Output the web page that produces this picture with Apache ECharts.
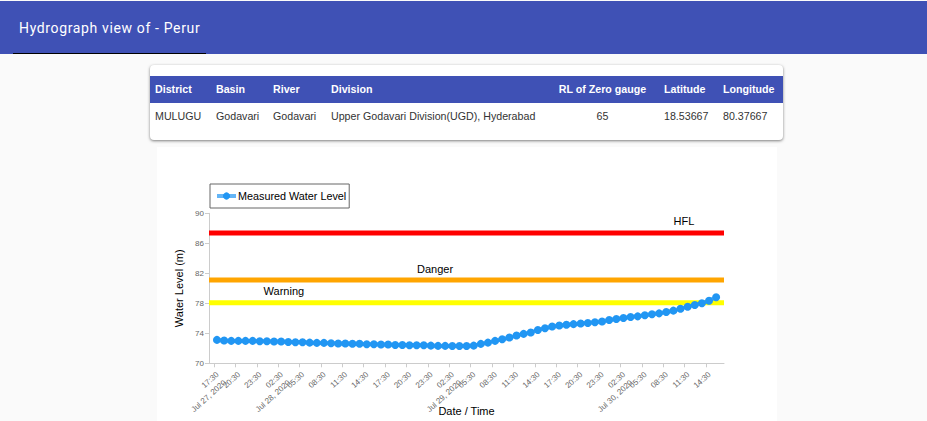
<!DOCTYPE html>
<html>
<head>
<meta charset="utf-8">
<title>Hydrograph view of - Perur</title>
<script src="https://cdn.jsdelivr.net/npm/echarts@6/dist/echarts.min.js"></script>
<style>
html,body{margin:0;padding:0;width:927px;height:421px;overflow:hidden;background:#fafafa;font-family:"Liberation Sans",Arial,sans-serif}
#bar{position:absolute;left:0;top:1px;width:927px;height:53px;background:#3f51b5}
#bar span{position:absolute;left:19px;top:19px;color:#fff;font:14px Roboto,sans-serif;letter-spacing:.64px;white-space:nowrap}
#bar i{position:absolute;left:13px;top:52px;width:193px;height:1px;background:#000}
#card{position:absolute;left:150px;top:65px;width:633px;height:75px;background:#fff;border-radius:4px;box-shadow:0 1px 3px rgba(0,0,0,.5)}
#card table{position:absolute;left:0;top:11px;width:633px;border-collapse:collapse;table-layout:fixed;font-size:10.67px}
#card th{height:27px;padding:0 0 2px;box-sizing:border-box;background:#3f51b5;color:#fff;font-weight:bold;text-align:left}
#card td{height:27px;padding:0 0 2px;box-sizing:border-box;color:#333;text-align:left}
#card th:first-child,#card td:first-child{padding-left:5px}
#card .rl{text-align:center;padding-right:9px}
#e{position:absolute;left:157px;top:147px;width:620px;height:274px;background:#fff}
</style>
</head>
<body>
<div id="bar"><span>Hydrograph view of - Perur</span><i></i></div>
<div id="card">
<table>
<colgroup><col style="width:66px"><col style="width:57px"><col style="width:58px"><col style="width:219px"><col style="width:114px"><col style="width:59px"><col style="width:60px"></colgroup>
<tr><th>District</th><th>Basin</th><th>River</th><th>Division</th><th class="rl">RL of Zero gauge</th><th>Latitude</th><th>Longitude</th></tr>
<tr><td>MULUGU</td><td>Godavari</td><td>Godavari</td><td>Upper Godavari Division(UGD), Hyderabad</td><td class="rl">65</td><td>18.53667</td><td>80.37667</td></tr>
</table>
</div>
<div id="e"></div>
<script>
// 水位 (hourly, first reading Jul 27 17:55)
var levels = [
    73.12,73.03,72.99,72.99,72.99,72.99,72.94,72.94,72.90,72.90,72.85,72.81,
    72.81,72.76,72.72,72.72,72.68,72.63,72.63,72.60,72.60,72.54,72.54,72.50,
    72.50,72.45,72.45,72.40,72.40,72.40,72.36,72.32,72.32,72.30,72.30,72.30,
    72.36,72.59,72.76,72.99,73.20,73.43,73.70,73.92,74.10,74.45,74.68,74.90,
    75.03,75.15,75.22,75.30,75.38,75.47,75.58,75.77,75.91,76.04,76.17,76.26,
    76.40,76.53,76.66,76.84,77.02,77.28,77.55,77.77,78.00,78.35,78.80
];
var firstReading = new Date('2020-07-27T17:55:00').getTime();
var times = levels.map(function (v, i) { return firstReading + i * 3600000; });

var tickTimes = [
    '2020-07-27T17:30:00','2020-07-27T20:30:00','2020-07-27T23:30:00','2020-07-28T02:30:00',
    '2020-07-28T05:30:00','2020-07-28T08:30:00','2020-07-28T11:30:00','2020-07-28T14:30:00',
    '2020-07-28T17:30:00','2020-07-28T20:30:00','2020-07-28T23:30:00','2020-07-29T02:30:00',
    '2020-07-29T05:30:00','2020-07-29T08:30:00','2020-07-29T11:30:00','2020-07-29T14:30:00',
    '2020-07-29T17:30:00','2020-07-29T20:30:00','2020-07-29T23:30:00','2020-07-30T02:30:00',
    '2020-07-30T05:30:00','2020-07-30T08:30:00','2020-07-30T11:30:00','2020-07-30T14:30:00'
].map(function (s) { return new Date(s).getTime(); });
var tickLabels = [
    '17:30\nJul 27, 2020','20:30','23:30','02:30\nJul 28, 2020','05:30','08:30','11:30','14:30',
    '17:30','20:30','23:30','02:30\nJul 29, 2020','05:30','08:30','11:30','14:30',
    '17:30','20:30','23:30','02:30\nJul 30, 2020','05:30','08:30','11:30','14:30'
];
var axisMin = new Date('2020-07-27T16:48:00').getTime();
var axisMax = new Date('2020-07-30T17:01:00').getTime();

var hfl = 87.37, danger = 81.1, warning = 78.08;
var hflAt = new Date('2020-07-30T11:24:00').getTime();
var dangerAt = new Date('2020-07-29T00:30:00').getTime();
var warningAt = new Date('2020-07-28T03:18:00').getTime();

function refLine(name, value, color, labelAt) {
    return {
        name: name,
        type: 'line',
        symbol: 'none',
        silent: true,
        z: 1,
        lineStyle: { color: color, width: 5, cap: 'butt' },
        data: [
            [axisMin, value],
            {
                value: [labelAt, value],
                symbol: 'circle',
                symbolSize: 0.1,
                label: { show: true, formatter: name, position: 'top', distance: 6, color: '#000', fontSize: 11 }
            },
            [axisMax, value]
        ]
    };
}

// 首尾 label 会被隐藏, 前面垫一个空的 axisMin
var labelValues = [axisMin].concat(tickTimes);

var myChart = echarts.init(document.getElementById('e'), null, { renderer: 'svg' });
var option = {
    animation: false,
    textStyle: { fontFamily: '"Liberation Sans", Arial, sans-serif' },
    grid: { left: 52, right: 53, top: 66.3, height: 150, containLabel: false, outerBoundsMode: 'none' },
    legend: {
        data: ['Measured Water Level'],
        left: 53,
        top: 37,
        padding: [6.5, 3, 6.5, 5],
        borderColor: '#666',
        borderWidth: 1,
        itemWidth: 19,
        itemHeight: 9,
        itemGap: 0,
        lineStyle: { color: '#64b5f6', width: 4 },
        textStyle: { color: '#000', fontSize: 10.8, padding: [0, 0, 0, -3] }
    },
    xAxis: {
        type: 'value',
        min: axisMin,
        max: axisMax,
        name: 'Date / Time',
        nameLocation: 'middle',
        nameGap: 42,
        nameMoveOverlap: false,
        nameTextStyle: { color: '#000', fontSize: 11 },
        splitLine: { show: false },
        axisLine: { lineStyle: { color: '#ccc', width: 1 } },
        axisTick: { customValues: labelValues, length: 4, lineStyle: { color: '#ccc' } },
        axisLabel: {
            customValues: labelValues,
            rotate: 42,
            hideOverlap: false,
            showMinLabel: false,
            showMaxLabel: true,
            margin: 6,
            fontSize: 8,
            lineHeight: 11,
            color: '#666',
            verticalAlign: 'top',
            formatter: function (value) { return tickLabels[tickTimes.indexOf(value)] || ''; }
        }
    },
    yAxis: {
        type: 'value',
        min: 70,
        max: 90,
        interval: 4,
        name: 'Water Level (m)',
        nameLocation: 'middle',
        nameGap: 25,
        nameTextStyle: { color: '#000', fontSize: 11 },
        splitLine: { show: false },
        axisLine: { show: true, lineStyle: { color: '#ccc', width: 1 } },
        axisTick: { show: true, length: 4, lineStyle: { color: '#ccc' } },
        axisLabel: { margin: 5, fontSize: 8, color: '#666' }
    },
    series: [
        refLine('HFL', hfl, '#ff0000', hflAt),
        refLine('Danger', danger, '#ffa500', dangerAt),
        refLine('Warning', warning, '#ffff00', warningAt),
        {
            name: 'Measured Water Level',
            type: 'line',
            symbol: 'circle',
            symbolSize: 8,
            z: 5,
            itemStyle: { color: '#2196f3' },
            lineStyle: { color: 'rgba(33,150,243,0.75)', width: 4 },
            data: times.map(function (t, i) { return [t, levels[i]]; })
        }
    ]
};
myChart.setOption(option);
</script>
</body>
</html>
